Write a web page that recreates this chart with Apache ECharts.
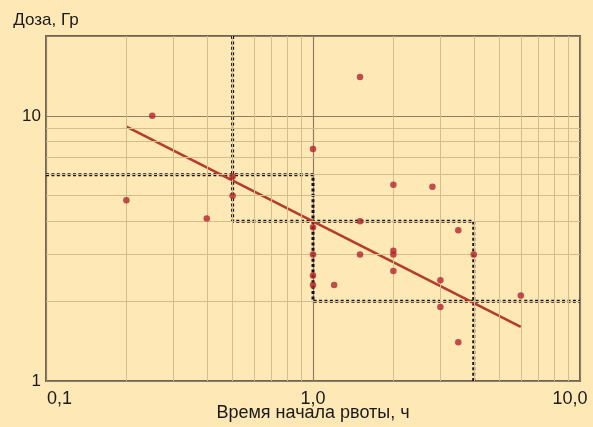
<!DOCTYPE html>
<html>
<head>
<meta charset="utf-8">
<script src="https://cdn.jsdelivr.net/npm/echarts@6/dist/echarts.min.js"></script>
<style>
  html, body { margin: 0; padding: 0; background: #fde8b6; }
  #chart { width: 593px; height: 427px; }
</style>
</head>
<body>
<div id="chart"></div>
<script>
// Observations: time to onset of vomiting (h) vs. absorbed dose (Gy)
const onsetHours = [0.2, 0.25, 0.4, 0.5, 0.5, 1, 1, 1, 1, 1, 1.2, 1.5, 1.5, 1.5, 2, 2, 2, 2, 2.8, 3, 3, 3.5, 3.5, 4, 6];
const doseGy     = [4.8, 10, 4.1, 5.9, 5.0, 7.5, 3.8, 3.0, 2.5, 2.3, 2.3, 14, 4.0, 3.0, 5.5, 3.1, 3.0, 2.6, 5.4, 2.4, 1.9, 3.7, 1.4, 3.0, 2.1];

// Fitted trend line endpoints
const trendHours = [0.2, 6];
const trendDose  = [9.1, 1.6];

// Dotted guide boundaries
const guideAHours = [0.1, 1, 1, 10];
const guideADose  = [6, 6, 2, 2];
const guideBHours = [0.5, 0.5, 4, 4];
const guideBDose  = [20, 4, 4, 1];

// Minor log grid lines
const xMinor = [0.2, 0.3, 0.4, 0.5, 0.6, 0.7, 0.8, 0.9, 2, 3, 4, 5, 6, 7, 8, 9];
const yMinor = [2, 3, 4, 5, 6, 7, 8, 9];

// Tick labels
const xTickLabels = { '-1': '0,1', '0': '1,0', '1': '10,0' };
const yTickLabels = { '0': '1', '1': '10' };

const zip = (a, b) => a.map((v, i) => [v, b[i]]);
const decade = v => Math.round(Math.log10(v) * 1000) / 1000;

const textColor = '#1b1a17';
const font = '"Liberation Sans", Arial, sans-serif';
const dotted = { color: '#141311', width: 3, type: [3, 2.4], cap: 'butt' };

const chart = echarts.init(document.getElementById('chart'));
chart.setOption({
  animation: false,
  backgroundColor: '#fde8b6',
  grid: {
    left: 46, right: 13, top: 36, bottom: 46,
    outerBoundsMode: 'none', containLabel: false,
    show: true, backgroundColor: '#fde8b6',
    borderColor: '#6f6454', borderWidth: 2
  },
  xAxis: {
    type: 'log', logBase: 10, min: 0.1, max: 10,
    name: 'Время начала рвоты, ч',
    nameLocation: 'middle', nameGap: 23, nameMoveOverlap: false,
    nameTextStyle: { color: textColor, fontSize: 18, fontFamily: font },
    axisLine: { show: false },
    axisTick: { show: false },
    splitLine: { show: true, lineStyle: { color: '#8e7e64', width: 1.2 } },
    axisLabel: {
      margin: 9,
      color: textColor, fontSize: 18, fontFamily: font,
      formatter: v => {
        const k = String(Math.round(Math.log10(v)));
        const t = xTickLabels[k] || '';
        if (k === '-1') return '{lo|' + t + '}';
        if (k === '1') return '{hi|' + t + '}';
        return t;
      },
      rich: {
        lo: { color: textColor, fontSize: 18, fontFamily: font, padding: [0, 0, 0, 27] },
        hi: { color: textColor, fontSize: 18, fontFamily: font, padding: [0, 20, 0, 0] }
      }
    }
  },
  yAxis: {
    type: 'log', logBase: 10, min: 1, max: 20,
    name: 'Доза, Гр',
    nameLocation: 'end', nameGap: 7,
    nameTextStyle: { color: textColor, fontSize: 17, fontFamily: font },
    axisLine: { show: false },
    axisTick: { show: false },
    splitLine: { show: true, lineStyle: { color: '#8e7e64', width: 1.2 } },
    axisLabel: {
      margin: 5,
      color: textColor, fontSize: 17, fontFamily: font,
      formatter: v => {
        const d = decade(v);
        if (!Number.isInteger(d)) return '';
        return yTickLabels[String(d)] || '';
      }
    }
  },
  series: [
    {
      // minor grid of the log-log field
      type: 'line', data: [], z: 1, silent: true,
      markLine: {
        silent: true, symbol: 'none', label: { show: false },
        lineStyle: { color: '#d5bc8c', width: 1, type: 'solid' },
        data: xMinor.map(v => ({ xAxis: v })).concat(yMinor.map(v => ({ yAxis: v })))
      }
    },
    {
      type: 'line', data: zip(guideAHours, guideADose), z: 3,
      symbol: 'none', silent: true, lineStyle: dotted
    },
    {
      type: 'line', data: zip(guideBHours, guideBDose), z: 3,
      symbol: 'none', silent: true, lineStyle: dotted
    },
    {
      type: 'line', data: zip(trendHours, trendDose), z: 4,
      symbol: 'none', silent: true,
      lineStyle: { color: '#b63b2b', width: 2.6 }
    },
    {
      type: 'scatter', data: zip(onsetHours, doseGy), z: 5,
      symbol: 'circle', symbolSize: 6.5,
      itemStyle: { color: '#b3242a' }
    }
  ]
});
</script>
</body>
</html>
